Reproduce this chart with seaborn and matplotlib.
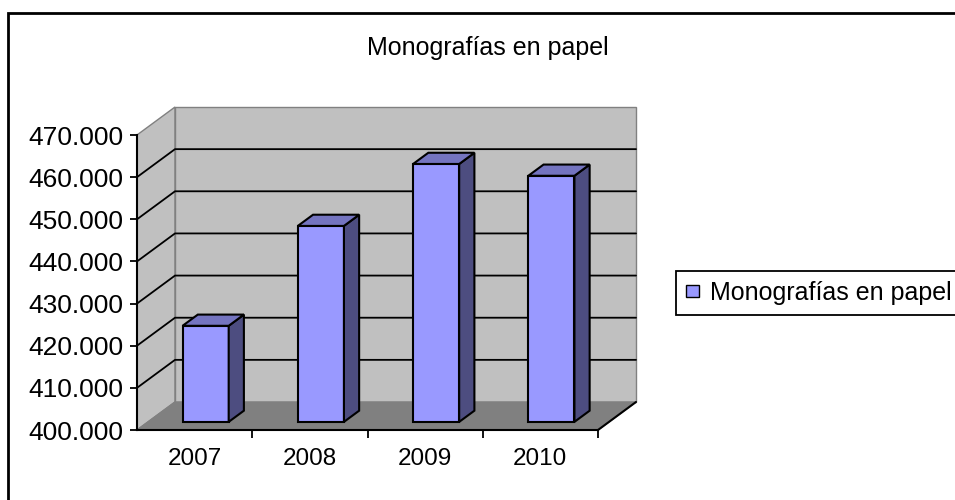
import numpy as np
import matplotlib.pyplot as plt
import seaborn as sns
import pandas as pd
from matplotlib.patches import Polygon, Rectangle, Patch
from matplotlib.lines import Line2D
from matplotlib.transforms import ScaledTranslation, IdentityTransform
from matplotlib.ticker import FuncFormatter

# data
years = ['2007', '2008', '2009', '2010']
monografias = [422800, 446500, 461200, 458400]
serie = 'Monografías en papel'
y_ticks = [400000, 410000, 420000, 430000, 440000, 450000, 460000, 470000]

sns.set_style('white')
plt.rcParams['font.family'] = ['Liberation Sans', 'DejaVu Sans']
plt.rcParams['text.color'] = 'black'

fig = plt.figure(figsize=(9.55, 5), dpi=100)
ax = fig.add_axes([137 / 955, 70 / 500, 461 / 955, 295 / 500])
ax.patch.set_visible(False)

df = pd.DataFrame({'Año': years, 'Ejemplares': monografias})
sns.barplot(data=df, x='Año', y='Ejemplares', ax=ax, width=0.4, color='#9999ff',
            saturation=1, edgecolor='black', linewidth=1.5, zorder=3)

ymin, ymax = y_ticks[0], y_ticks[-1]
ax.set_xlim(-0.5, 3.5)
ax.set_ylim(ymin, ymax)

# fake 3d: depth vector in pixels (right, up)
DEPTH = np.array([38.0, 28.0])
F0 = 0.29   # front of the bars
T = 0.40    # bar depth


def px(x, y, d):
    return ax.transData.transform((x, y)) + d * DEPTH


def face(pts, fc, ec, z, lw=1.0):
    ax.add_patch(Polygon(pts, closed=True, transform=IdentityTransform(), facecolor=fc,
                         edgecolor=ec, lw=lw, zorder=z, clip_on=False))


# walls and floor
face([px(-0.5, ymin, 0), px(-0.5, ymin, 1), px(-0.5, ymax, 1), px(-0.5, ymax, 0)],
     '#c0c0c0', '#808080', 0.1)
face([px(-0.5, ymin, 1), px(3.5, ymin, 1), px(3.5, ymax, 1), px(-0.5, ymax, 1)],
     '#c0c0c0', '#808080', 0.1)
face([px(-0.5, ymin, 0), px(3.5, ymin, 0), px(3.5, ymin, 1), px(-0.5, ymin, 1)],
     '#808080', '#808080', 0.3)

for v in y_ticks[1:-1]:
    pts = np.array([px(-0.5, v, 0), px(-0.5, v, 1), px(3.5, v, 1)])
    ax.add_line(Line2D(pts[:, 0], pts[:, 1], transform=IdentityTransform(),
                       color='black', lw=1.3, zorder=0.5, clip_on=False))
pts = np.array([px(3.5, ymin, 0), px(3.5, ymin, 1)])
ax.add_line(Line2D(pts[:, 0], pts[:, 1], transform=IdentityTransform(),
                   color='black', lw=1.5, zorder=0.6, clip_on=False))

# bars: move the front faces back and add side + top
shift = ScaledTranslation(F0 * DEPTH[0] / 100, F0 * DEPTH[1] / 100, fig.dpi_scale_trans)
for p, v in zip(ax.patches[:len(monografias)], monografias):
    x0, w = p.get_x(), p.get_width()
    p.set_y(ymin)
    p.set_height(v - ymin)
    p.set_transform(ax.transData + shift)
    p.set_clip_on(False)
    face([px(x0 + w, ymin, F0), px(x0 + w, ymin, F0 + T), px(x0 + w, v, F0 + T), px(x0 + w, v, F0)],
         '#4d4d80', 'black', 3, lw=1.5)
    face([px(x0, v, F0), px(x0 + w, v, F0), px(x0 + w, v, F0 + T), px(x0, v, F0 + T)],
         '#7474c0', 'black', 3, lw=1.5)

# axes
ax.set_xlabel('')
ax.set_ylabel('')
ax.set_yticks(y_ticks)
ax.yaxis.set_major_formatter(FuncFormatter(lambda v, _: f'{v:,.0f}'.replace(',', '.')))
ax.tick_params(axis='y', left=True, direction='out', length=5, width=1.3, color='black',
               labelsize=19, labelcolor='black', pad=5)
ax.set_xticks(range(len(years)))
ax.set_xticklabels(years)
ax.set_xticks([0.5, 1.5, 2.5, 3.5], minor=True)
ax.tick_params(axis='x', which='major', length=0, labelsize=17.5, labelcolor='black', pad=13)
ax.tick_params(axis='x', which='minor', bottom=True, direction='out', length=6, width=1.3,
               color='black')
for s in ['top', 'right']:
    ax.spines[s].set_visible(False)
for s in ['left', 'bottom']:
    ax.spines[s].set_color('black')
    ax.spines[s].set_linewidth(1.5)
    ax.spines[s].set_zorder(0.7)

fig.text(488 / 955, 1 - 55 / 500, serie, ha='center', va='baseline', fontsize=18,
         color='black')

handle = Patch(facecolor='#9999ff', edgecolor='black', lw=1)
leg = fig.legend(handles=[handle], labels=[serie], loc='upper left',
                 bbox_to_anchor=(676 / 955, 1 - 271 / 500), frameon=True, fancybox=False,
                 edgecolor='black', framealpha=1, fontsize=18, handlelength=0.5,
                 handleheight=0.39, handletextpad=0.45, borderpad=0.4, borderaxespad=0,
                 labelcolor='black')
leg.get_frame().set_linewidth(1.3)

# chart border (cut by the image on the right and bottom)
fig.add_artist(Rectangle((8 / 955, -0.05), 1.1, 1 - 13 / 500 + 0.05, transform=fig.transFigure,
                         fill=False, edgecolor='black', lw=2))

fig.savefig('out.png', dpi=100)
